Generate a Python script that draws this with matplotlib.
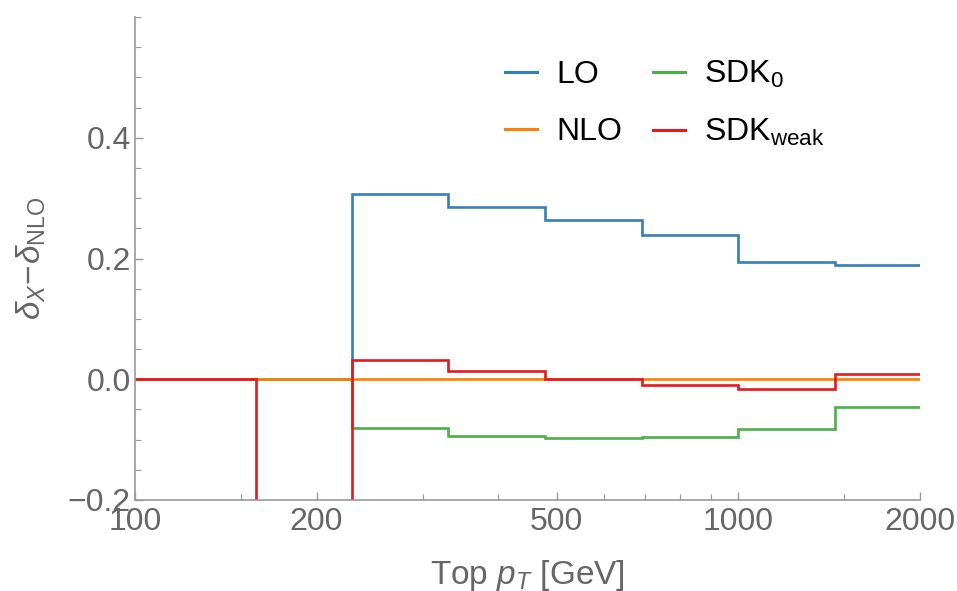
import matplotlib
matplotlib.use("Agg")
import matplotlib.pyplot as plt
from matplotlib.ticker import FixedLocator, NullFormatter

plt.rcParams['font.family'] = ['Liberation Sans', 'DejaVu Sans']
plt.rcParams['mathtext.fontset'] = 'custom'
plt.rcParams['mathtext.rm'] = 'Liberation Sans'
plt.rcParams['mathtext.it'] = 'Liberation Sans:italic'
plt.rcParams['mathtext.bf'] = 'Liberation Sans:bold'

# bin edges in top pT [GeV]
edges = [100, 158.5, 229, 331, 479, 692, 1000, 1445, 2000]

lo = [0.0, 0.0, 0.307, 0.286, 0.264, 0.239, 0.194, 0.189]
nlo = [0.0, 0.0, 0.0, 0.0, 0.0, 0.0, 0.0, 0.0]
sdk0 = [0.0, 0.0, -0.081, -0.094, -0.097, -0.095, -0.083, -0.046]
sdkweak = [0.0, -0.6, 0.032, 0.013, 0.001, -0.009, -0.016, 0.009]

labels = ["LO", "NLO", r"SDK$_{\rm 0}$", r"SDK$_{\rm weak}$"]
colors = ["#377EB8", "#FF7F00", "#4DAF4A", "#E41A1C"]

x_major = [100, 200, 500, 1000, 2000]
x_minor = [150, 300, 400, 600, 700, 800, 900, 1500]
y_major = [-0.2, 0.0, 0.2, 0.4]
y_labels = ["\u22120.2", "0.0", "0.2", "0.4"]
y_minor = [-0.15, -0.1, -0.05, 0.05, 0.1, 0.15, 0.25, 0.3, 0.35, 0.45, 0.5, 0.55, 0.6]

fig = plt.figure(figsize=(9.57, 5.91), dpi=100)
ax = fig.add_axes([0.141, 0.154, 0.820, 0.817])

series = [lo, nlo, sdk0, sdkweak]
zorders = [2.0, 2.2, 2.1, 2.3]
for vals, lab, col, z in zip(series, labels, colors, zorders):
    ax.stairs(vals, edges, color=col, linewidth=1.9, label=lab, baseline=None, zorder=z)

ax.set_xscale('log')
ax.set_xlim(100, 2000)
ax.set_ylim(-0.2, 0.6)

gray = "#999999"
tcol = "#666666"
for s in ['top', 'right']:
    ax.spines[s].set_visible(False)
for s in ['left', 'bottom']:
    ax.spines[s].set_color(gray)
    ax.spines[s].set_linewidth(1.2)

ax.xaxis.set_major_locator(FixedLocator(x_major))
ax.xaxis.set_minor_locator(FixedLocator(x_minor))
ax.set_xticklabels([str(v) for v in x_major])
ax.xaxis.set_minor_formatter(NullFormatter())
ax.yaxis.set_major_locator(FixedLocator(y_major))
ax.yaxis.set_minor_locator(FixedLocator(y_minor))
ax.set_yticklabels(y_labels)

ax.tick_params(axis='both', which='major', direction='in', length=6, width=1.0,
               color=gray, labelcolor=tcol, labelsize=23, pad=3)
ax.tick_params(axis='x', which='major', pad=5)
ax.tick_params(axis='both', which='minor', direction='in', length=4, width=0.8, color=gray)

ax.set_xlabel(r"Top $p_T$ [GeV]", fontsize=24, color=tcol, labelpad=15)
ax.set_ylabel(r"$\delta_X\!-\!\delta_{\rm NLO}$", fontsize=24, color=tcol, labelpad=14)

leg_handles = [plt.Line2D([], [], color=c, linewidth=2.2) for c in colors]
ax.legend(leg_handles, labels, ncol=2, frameon=False, fontsize=23,
          loc='upper left', bbox_to_anchor=(0.472, 0.913), borderaxespad=0, borderpad=0,
          handlelength=1.0, handletextpad=0.6, columnspacing=0.95, labelspacing=0.85)

fig.savefig("out.png", dpi=100)
